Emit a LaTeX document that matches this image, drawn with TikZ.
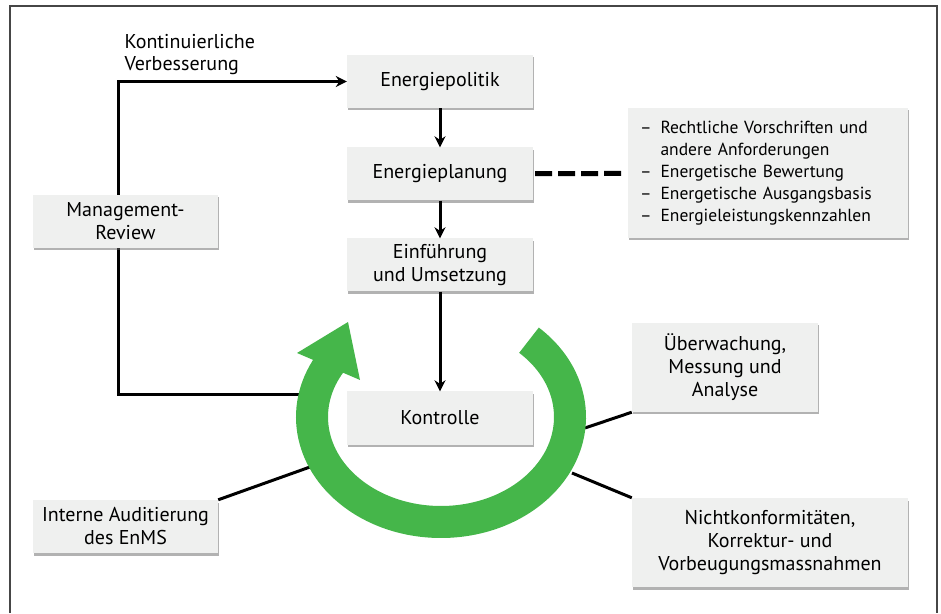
\documentclass[tikz,border=0pt]{standalone}
\usepackage{fontspec}
\setmainfont{PT Sans}
\usetikzlibrary{arrows.meta,shadows}
\definecolor{boxgray}{RGB}{239,240,239}
\definecolor{ringgreen}{RGB}{69,182,74}
\definecolor{framegray}{RGB}{70,70,70}
\tikzset{
  stepbox/.style={fill=boxgray, drop shadow={shadow xshift=1pt, shadow yshift=-2.5pt, fill=black!60},
    minimum width=186pt, minimum height=53pt, inner sep=0pt, align=center,
    font=\fontsize{20}{23}\selectfont},
  flow/.style={line width=3pt, -{Stealth[length=11pt,width=11pt]}},
  link/.style={line width=3pt},
  dashline/.style={line width=5pt, dash pattern=on 17pt off 6pt},
}
\begin{document}
\begin{tikzpicture}[x=1pt,y=1pt]
\useasboundingbox (0,0) rectangle (941,613);
% frame
\draw[framegray, line width=2pt] (10,0) -- (10,607) -- (937,607) -- (937,0);
% cycle boxes
\node[stepbox] (pol) at (440,531.5) {Energiepolitik};
\node[stepbox] (plan) at (440,439) {Energieplanung};
\node[stepbox] (umsetz) at (440,348) {Einführung\\und Umsetzung};
\node[stepbox] (kontr) at (440,195) {Kontrolle};
\node[anchor=west, align=left, font=\fontsize{20}{22}\selectfont] (kvtext) at (121,558) {Kontinuierliche\\Verbesserung};
% side boxes
\node[stepbox, text width=256pt, inner xsep=12pt, minimum height=130pt, align=left,
  font=\fontsize{17.5}{22}\selectfont] (liste) at (768,440) {%
  \raisebox{-3pt}{\begin{tabular}{@{}l@{\hspace{9pt}}l@{}}
  – & Rechtliche Vorschriften und\\
    & andere Anforderungen\\
  – & Energetische Bewertung\\
  – & Energetische Ausgangsbasis\\
  – & Energieleistungskennzahlen
  \end{tabular}}};
\node[stepbox, minimum height=89pt] (ueber) at (725,245.5) {Überwachung,\\Messung und\\Analyse};
\node[stepbox, minimum width=185pt] (audit) at (125.5,86.5) {Interne Auditierung\\des EnMS};
\node[stepbox, minimum width=276pt, minimum height=89pt] (nicht) at (770,70.5) {Nichtkonformitäten,\\Korrektur- und\\Vorbeugungsmassnahmen};
% connectors
\coordinate (ringc) at (441,196);
\coordinate (lk) at (305,218);
\coordinate (eck) at (118,531.5);
\coordinate (r1) at (585,185);
\coordinate (r2) at (572,140);
\coordinate (r3) at (310,146);
\draw[flow] (pol) -- (plan);
\draw[flow] (plan) -- (umsetz);
\draw[flow] (umsetz) -- (kontr);
\draw[flow] (lk) -| (eck) -- (pol);
\draw[dashline, shorten <=2pt, shorten >=6pt] (plan) -- (liste);
\draw[link] (ueber.south west) -- (r1);
\draw[link] (nicht.north west) -- (r2);
\draw[link] (audit.north east) -- (r3);
% review box sits on the loop line
\node[stepbox, minimum width=185pt] (review) at (125.5,391.5) {Management-\\Review};
% green ring
\draw[ringgreen, line width=32pt] (ringc) ++(47:129 and 105)
  arc[start angle=47, end angle=-212, x radius=129, y radius=105];
\fill[ringgreen] (348,291) -- (297,260) -- (360,233) -- cycle;
\end{tikzpicture}
\end{document}
